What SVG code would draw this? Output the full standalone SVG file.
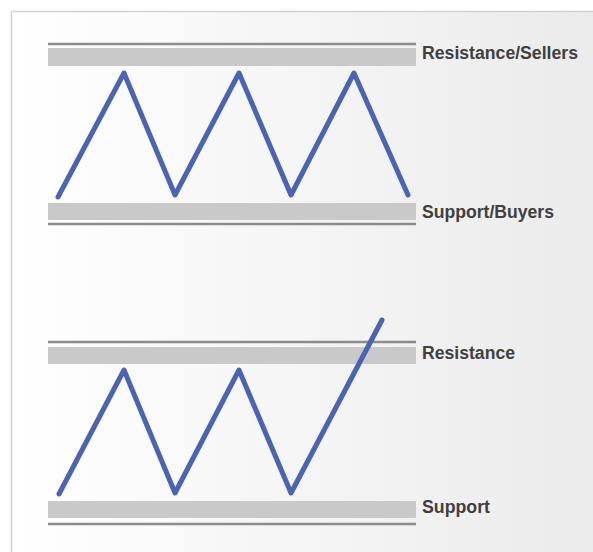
<svg xmlns="http://www.w3.org/2000/svg" width="593" height="552" viewBox="0 0 593 552">
  <defs>
    <linearGradient id="bg" x1="0" y1="0" x2="1" y2="0">
      <stop offset="0" stop-color="#ffffff"/>
      <stop offset="1" stop-color="#ebebeb"/>
    </linearGradient>
  </defs>
  <style>
    .band { fill: #c9c9c9; }
    .edge { stroke: #8c8c8c; stroke-width: 2.5; }
    .lbl { font-family: "Liberation Sans", Arial, sans-serif; font-weight: bold; font-size: 18px; fill: #404040; }
    .zig { fill: none; stroke: #4a64b3; stroke-width: 5; stroke-linecap: round; stroke-linejoin: round; }
  </style>
  <rect x="0" y="0" width="593" height="552" fill="#ffffff"/>
  <rect x="11" y="11" width="582" height="541" fill="url(#bg)"/>
  <line x1="11" y1="11.5" x2="593" y2="11.5" stroke="#d2d2d2" stroke-width="1.5"/>
  <line x1="11.5" y1="11" x2="11.5" y2="552" stroke="#d2d2d2" stroke-width="1.5"/>

  <g id="resistance-sellers">
    <line class="edge" x1="48" y1="44" x2="416" y2="44"/>
    <rect class="band" x="48" y="48" width="368" height="18"/>
    <text class="lbl" x="422" y="58.5" textLength="156" lengthAdjust="spacingAndGlyphs">Resistance/Sellers</text>
  </g>
  <g id="support-buyers">
    <rect class="band" x="48" y="203" width="368" height="17"/>
    <line class="edge" x1="48" y1="224" x2="416" y2="224"/>
    <text class="lbl" x="422" y="217.5" textLength="132" lengthAdjust="spacingAndGlyphs">Support/Buyers</text>
  </g>
  <g id="resistance">
    <line class="edge" x1="48" y1="342" x2="416" y2="342"/>
    <rect class="band" x="48" y="347" width="368" height="17"/>
    <text class="lbl" x="422" y="358.5" textLength="93" lengthAdjust="spacingAndGlyphs">Resistance</text>
  </g>
  <g id="support">
    <rect class="band" x="48" y="501" width="368" height="17"/>
    <line class="edge" x1="48" y1="524" x2="416" y2="524"/>
    <text class="lbl" x="422" y="512.5" textLength="68" lengthAdjust="spacingAndGlyphs">Support</text>
  </g>

  <g id="connectors">
    <polyline class="zig" points="58,197 124,73 175,195 239,73 291,195 354,73 408,195"/>
    <polyline class="zig" points="59,494 124,370 175,493 239,370 291,493 382,320"/>
  </g>
</svg>
